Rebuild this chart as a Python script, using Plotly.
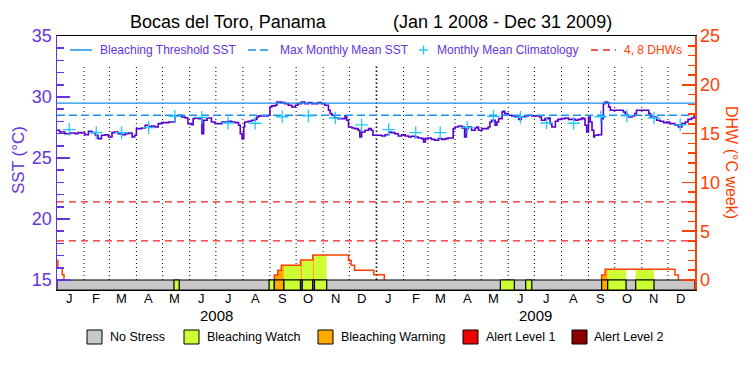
import plotly.graph_objects as go
import pandas as pd

# ---------------- data ----------------
T0 = pd.Timestamp("2008-01-01")
T1 = pd.Timestamp("2010-01-01")

# SST (deg C), days since 2008-01-01
sst_day = [0, 3, 9, 15, 21, 24, 28, 32, 36, 40, 44, 47, 51, 55, 59, 63, 66, 70, 74, 78, 82, 86, 89, 91,
           97, 101, 105, 108, 112, 116, 120, 124, 128, 131, 135, 139, 143, 147, 150, 154, 156, 158, 162,
           166, 168, 172, 177, 181,
           185, 189, 192, 196, 200, 204, 208, 210, 212, 214, 215, 219, 223, 227, 229, 231, 234, 238, 242,
           244, 246, 250, 252, 257, 261, 265, 269, 273, 276, 280, 284, 288, 292, 296, 299, 303, 307, 311,
           313, 315, 318, 322, 326, 330, 332, 334, 338, 341, 345, 347, 349, 353, 357, 360, 362, 368,
           372, 376, 380, 383, 387, 391, 395, 399, 403, 406, 410, 414, 418, 420, 422, 425, 429, 433, 437,
           441, 445, 448, 452, 454, 456, 460, 464, 466, 467, 469, 471, 475, 479, 481, 483, 487, 490, 494,
           496, 498, 502, 504, 506, 510, 511, 513, 517, 521, 525, 529, 532, 536, 540, 544, 548,
           553, 555, 559, 563, 565, 567, 571, 574, 578, 582, 586, 590, 594, 597, 601, 603, 605, 607, 609,
           611, 613, 615, 616, 620, 624, 626, 628, 630, 632, 634, 636, 639, 643, 647, 649, 651, 653, 655,
           659, 662, 664, 668, 674, 678, 680, 683, 687, 691, 695, 699, 702, 708, 710, 712, 716, 720, 723,
           727, 730]
sst_val = [27.27, 27.13, 26.99, 27.05, 26.99, 27.08, 27.05, 26.91, 27.19, 27.08, 26.86, 26.59, 26.86, 26.91,
           26.72, 27.08, 27.13, 26.99, 26.91, 26.99, 27.05, 26.72, 26.86, 27.41,
           27.46, 27.68, 27.54, 27.62, 27.54, 27.82, 27.90, 27.90, 27.95, 27.95, 28.45, 28.50, 28.36, 28.28,
           27.82, 27.73, 28.23, 28.28, 28.23,
           26.99, 28.09, 28.28, 27.95, 27.82,
           27.82, 27.95, 27.95, 28.01, 27.95, 27.90, 27.68, 26.99, 26.59, 27.54, 27.95, 28.01, 28.09, 28.17,
           28.36, 28.45, 28.45, 28.45, 28.50,
           29.18, 29.27, 29.32, 29.59, 29.54, 29.46, 29.32, 29.18, 29.32, 29.46, 29.59, 29.46, 29.54, 29.46,
           29.46, 29.54, 29.46, 29.32, 28.91,
           28.64, 28.50, 28.28, 28.23, 28.23, 28.45, 28.09, 27.54, 27.46, 27.41, 27.27, 26.72, 27.13, 27.27,
           27.41, 27.27, 26.86, 26.86,
           26.80, 26.91, 27.13, 27.08, 26.99, 26.80, 26.91, 26.80, 26.72, 26.78, 26.72, 26.64, 26.59, 26.31,
           26.59, 26.64, 26.53, 26.45, 26.59,
           26.53, 26.59, 26.64, 26.64, 27.41, 27.54, 27.62, 27.46, 27.54, 26.72, 27.41, 27.54, 27.27, 27.46,
           27.54, 27.27, 27.41, 27.41, 27.54,
           27.95, 28.09, 27.68, 27.95, 28.23, 28.77, 28.83, 28.64, 28.50, 28.45, 28.36, 28.17, 28.36, 28.45,
           28.50, 28.45, 28.45,
           28.36, 28.09, 28.23, 28.28, 27.82, 27.54, 28.01, 28.17, 28.23, 28.28, 28.17, 28.17, 28.09, 28.17,
           28.28, 28.23, 27.68, 27.13, 28.36,
           27.95, 27.27, 26.72, 26.86, 26.91, 28.23, 29.46, 29.59, 29.54, 29.18, 28.91, 28.91, 28.91, 28.91,
           28.91, 28.77, 28.64, 28.50, 28.36,
           28.45, 28.64, 28.91, 28.91, 28.91, 28.64, 28.36, 28.36, 28.09, 28.01, 27.90, 27.95, 27.82, 27.68,
           27.73, 27.54, 27.82, 27.95, 28.17,
           28.28, 28.45]

# Monthly mean climatology (Jan..Dec)
clim_val = [27.33, 27.08, 27.08, 27.49, 28.42, 28.33, 27.87, 27.85, 28.38, 28.45, 28.28, 27.72]
bleach_threshold = 29.5
mmm_sst = 28.5
dhw_refs = [4, 8]

# Degree heating weeks (step values, each holds until next date)
dhw_date = ["2008-01-01", "2008-01-02", "2008-01-07", "2008-01-09",
            "2008-09-06", "2008-09-10", "2008-09-14", "2008-10-06", "2008-10-20",
            "2008-11-30", "2008-12-03", "2008-12-07", "2008-12-29", "2009-01-10",
            "2009-09-16", "2009-09-20", "2009-12-09", "2009-12-13"]
dhw_val = [2.0, 1.25, 0.55, 0.0,
           0.5, 1.0, 1.5, 2.05, 2.55,
           2.0, 1.5, 1.0, 0.55, 0.0,
           0.5, 1.1, 0.5, 0.0]

# Stress level periods (1 = Bleaching Watch, 2 = Bleaching Warning)
stress_start = ["2008-05-14", "2008-08-31", "2008-09-06", "2008-09-17", "2008-10-06", "2008-10-08",
                "2008-10-20", "2008-10-22",
                "2009-05-23", "2009-06-21", "2009-09-16", "2009-09-23", "2009-10-25"]
stress_end = ["2008-05-20", "2008-09-06", "2008-09-17", "2008-10-06", "2008-10-08", "2008-10-20",
              "2008-10-22", "2008-11-05",
              "2009-06-08", "2009-06-28", "2009-09-23", "2009-10-14", "2009-11-15"]
stress_level = [1, 1, 2, 1, 2, 1, 2, 1,
                1, 1, 2, 1, 1]

stress_names = ["No Stress", "Bleaching Watch", "Bleaching Warning", "Alert Level 1", "Alert Level 2"]
stress_colors = ["#c8c8c8", "#ccff33", "#ffaa00", "#ee0000", "#8b0000"]
month_letters = ["J", "F", "M", "A", "M", "J", "J", "A", "S", "O", "N", "D"]
years = [2008, 2009]
sst_ticks = [15, 20, 25, 30, 35]
dhw_ticks = [0, 5, 10, 15, 20, 25]

# ---------------- style / geometry ----------------
FONT = "Liberation Sans"
PURPLE = "#6633dd"
SSTLINE = "#5500cc"
BLUE = "#1890f0"
CYAN = "#1ec8ff"
ORANGE = "#ff4000"
RED = "#ee2020"

W, H = 750, 375
L, R, TOP, BOT = 57, 695, 36, 290
Y0PX = 280  # pixel of SST 15 / DHW 0
sst_ppu = (Y0PX - TOP) / (35 - 15)
dhw_ppu = (Y0PX - TOP) / (25 - 0)
sst_range = [15 - (BOT - Y0PX) / sst_ppu, 35]
dhw_range = [0 - (BOT - Y0PX) / dhw_ppu, 25]


def xp(px):
    return (px - L) / (R - L)


def yp(py):
    return (BOT - py) / (BOT - TOP)


sst_x = [T0 + pd.Timedelta(days=d) for d in sst_day]
dhw_x = pd.to_datetime(dhw_date)


def dhw_at(t):
    idx = dhw_x.searchsorted(t, side="right") - 1
    return dhw_val[idx] if idx >= 0 else 0.0


fig = go.Figure()

# SST line
fig.add_trace(go.Scatter(x=sst_x, y=sst_val, mode="lines", line=dict(color=SSTLINE, width=1.6, shape="hv"),
                         showlegend=False, yaxis="y"))
# threshold and MMM
fig.add_trace(go.Scatter(x=[T0, T1], y=[bleach_threshold] * 2, mode="lines",
                         line=dict(color=BLUE, width=1.4), showlegend=False))
fig.add_trace(go.Scatter(x=[T0, T1], y=[mmm_sst] * 2, mode="lines",
                         line=dict(color=BLUE, width=1.4, dash="8px,4px"), showlegend=False))
# climatology crosses
clim_x, clim_y = [], []
for y in years:
    for m in range(12):
        clim_x.append(pd.Timestamp(year=y, month=m + 1, day=15))
        clim_y.append(clim_val[m])
fig.add_trace(go.Scatter(x=clim_x, y=clim_y, mode="markers",
                         marker=dict(symbol="cross-thin", size=9, line=dict(color=CYAN, width=1.3)),
                         showlegend=False))

# DHW reference lines
for v in dhw_refs:
    fig.add_trace(go.Scatter(x=[T0, T1], y=[v, v], mode="lines", yaxis="y2",
                             line=dict(color=RED, width=1.3, dash="7px,5px"), showlegend=False))

# fills under DHW according to stress level
for s, e, lv in zip(stress_start, stress_end, stress_level):
    s, e = pd.Timestamp(s), pd.Timestamp(e)
    xs = [s] + [d for d in dhw_x if s < d < e] + [e]
    ys = [dhw_at(d) for d in xs[:-1]]
    ys.append(ys[-1])
    if max(ys) <= 0:
        continue
    fig.add_trace(go.Scatter(x=xs, y=ys, mode="lines", yaxis="y2", fill="tozeroy",
                             fillcolor=stress_colors[lv], line=dict(width=0, shape="hv"),
                             showlegend=False))

# DHW line (only where non-zero)
lx, ly = [], []
prev = 0.0
for d, v in zip(dhw_x, dhw_val):
    if v > 0 and prev == 0:
        if d > T0:
            lx.append(d); ly.append(0.0)
    if v == 0 and prev > 0:
        lx.append(d); ly.append(0.0)
        lx.append(None); ly.append(None)
    elif v > 0:
        lx.append(d); ly.append(v)
    prev = v
if prev > 0:
    lx.append(T1); ly.append(prev)
fig.add_trace(go.Scatter(x=lx, y=ly, mode="lines", yaxis="y2",
                         line=dict(color=ORANGE, width=1.5, shape="hv"), showlegend=False))

# stress bar
def rect(x0, x1, color):
    b, t = dhw_range[0], 0
    fig.add_trace(go.Scatter(x=[x0, x1, x1, x0, x0], y=[b, b, t, t, b], mode="lines", yaxis="y2",
                             fill="toself", fillcolor=color, line=dict(color="black", width=1.2),
                             showlegend=False))


rect(T0, T1, stress_colors[0])
for s, e, lv in zip(stress_start, stress_end, stress_level):
    rect(pd.Timestamp(s), pd.Timestamp(e), stress_colors[lv])

# month boundary dotted lines
shapes = []
for y in years:
    for m in range(12):
        d = pd.Timestamp(year=y, month=m + 1, day=1)
        if d == T0:
            continue
        yr_line = (m == 0)
        shapes.append(dict(type="line", xref="x", yref="y", x0=d, x1=d, y0=15,
                           y1=35 - (65 - TOP) / sst_ppu, layer="below",
                           line=dict(color="black", width=1.6 if yr_line else 1,
                                     dash="1.5px,2.5px" if yr_line else "1px,3px")))

# top legend
LEG_Y = 50
shapes.append(dict(type="line", xref="paper", yref="paper", x0=xp(70), x1=xp(92), y0=yp(LEG_Y), y1=yp(LEG_Y),
                   line=dict(color=BLUE, width=1.5)))
shapes.append(dict(type="line", xref="paper", yref="paper", x0=xp(248), x1=xp(272), y0=yp(LEG_Y), y1=yp(LEG_Y),
                   line=dict(color=BLUE, width=1.5, dash="8px,4px")))
shapes.append(dict(type="line", xref="paper", yref="paper", x0=xp(419), x1=xp(428), y0=yp(LEG_Y), y1=yp(LEG_Y),
                   line=dict(color=CYAN, width=1.4)))
shapes.append(dict(type="line", xref="paper", yref="paper", x0=xp(423.5), x1=xp(423.5), y0=yp(LEG_Y - 4.5),
                   y1=yp(LEG_Y + 4.5), line=dict(color=CYAN, width=1.4)))
shapes.append(dict(type="line", xref="paper", yref="paper", x0=xp(591), x1=xp(616), y0=yp(LEG_Y), y1=yp(LEG_Y),
                   line=dict(color=RED, width=1.3, dash="7px,5px")))

# bottom legend boxes
box_x = [87, 184, 318, 463, 572]
txt_x = [108, 205, 339, 484, 592]
for bx, c in zip(box_x, stress_colors):
    shapes.append(dict(type="rect", xref="paper", yref="paper", x0=xp(bx), x1=xp(bx + 15), y0=yp(344),
                       y1=yp(330), fillcolor=c, line=dict(color="black", width=1)))

anns = []


def ann(text, px, py, size, color, xanchor="center", angle=0):
    anns.append(dict(text=text, xref="paper", yref="paper", x=xp(px), y=yp(py), xanchor=xanchor,
                     yanchor="middle", showarrow=False, textangle=angle,
                     font=dict(family=FONT, size=size, color=color)))


ann("Bocas del Toro, Panama", 228, 22, 18, "black")
ann("(Jan 1 2008 - Dec 31 2009)", 502, 22, 18, "black")
ann("Bleaching Threshold SST", 98, LEG_Y, 12, PURPLE, "left")
ann("Max Monthly Mean SST", 278, LEG_Y, 12, PURPLE, "left")
ann("Monthly Mean Climatology", 435, LEG_Y, 12, PURPLE, "left")
ann("4, 8 DHWs", 622, LEG_Y, 12, ORANGE, "left")
ann("SST (\u00b0C)", 18, 160, 17, PURPLE, angle=-90)
ann("DHW (\u00b0C week)", 732, 162, 16, ORANGE, angle=90)
for tx, name in zip(txt_x, stress_names):
    ann(name, tx, 337, 12.5, "black", "left")

# month letters and year labels under the axis
for y in years:
    for m in range(12):
        anns.append(dict(text=month_letters[m], xref="x", yref="paper",
                         x=pd.Timestamp(year=y, month=m + 1, day=15), y=yp(298), showarrow=False,
                         yanchor="middle", font=dict(family=FONT, size=13, color="black")))
    anns.append(dict(text=str(y), xref="x", yref="paper", x=pd.Timestamp(year=y, month=7, day=2),
                     y=yp(315), showarrow=False, yanchor="middle",
                     font=dict(family=FONT, size=15, color="black")))

fig.update_layout(
    width=W, height=H,
    margin=dict(l=L, r=W - R, t=TOP, b=H - BOT, pad=0, autoexpand=False),
    paper_bgcolor="white", plot_bgcolor="white",
    font=dict(family=FONT),
    showlegend=False,
    hovermode=False,
    shapes=shapes, annotations=anns,
    xaxis=dict(type="date", range=[T0, T1], showgrid=False, zeroline=False, showline=True, mirror=True,
               linecolor="black", linewidth=1, ticks="", showticklabels=False, automargin=False),
    yaxis=dict(range=sst_range, showgrid=False, zeroline=False, showline=True, linecolor=PURPLE, linewidth=1.5,
               tickvals=sst_ticks, ticks="inside", ticklen=13, tickwidth=1.5, tickcolor=PURPLE,
               tickfont=dict(family=FONT, size=18, color=PURPLE), automargin=False,
               minor=dict(tickvals=[v for v in range(16, 35) if v % 5], ticks="inside", ticklen=7,
                          tickwidth=1.5, tickcolor=PURPLE)),
    yaxis2=dict(range=dhw_range, overlaying="y", side="right", showgrid=False, zeroline=False, showline=True,
                linecolor=ORANGE, linewidth=1.5, tickvals=dhw_ticks, ticks="inside", ticklen=13, tickwidth=1.5,
                tickcolor=ORANGE, tickfont=dict(family=FONT, size=18, color=ORANGE), automargin=False,
                minor=dict(tickvals=[v for v in range(1, 25) if v % 5], ticks="inside", ticklen=7,
                           tickwidth=1.5, tickcolor=ORANGE)),
)

fig.write_html("out.html", config={"displayModeBar": False, "staticPlot": True},
               post_script="document.body.style.margin='0';")
